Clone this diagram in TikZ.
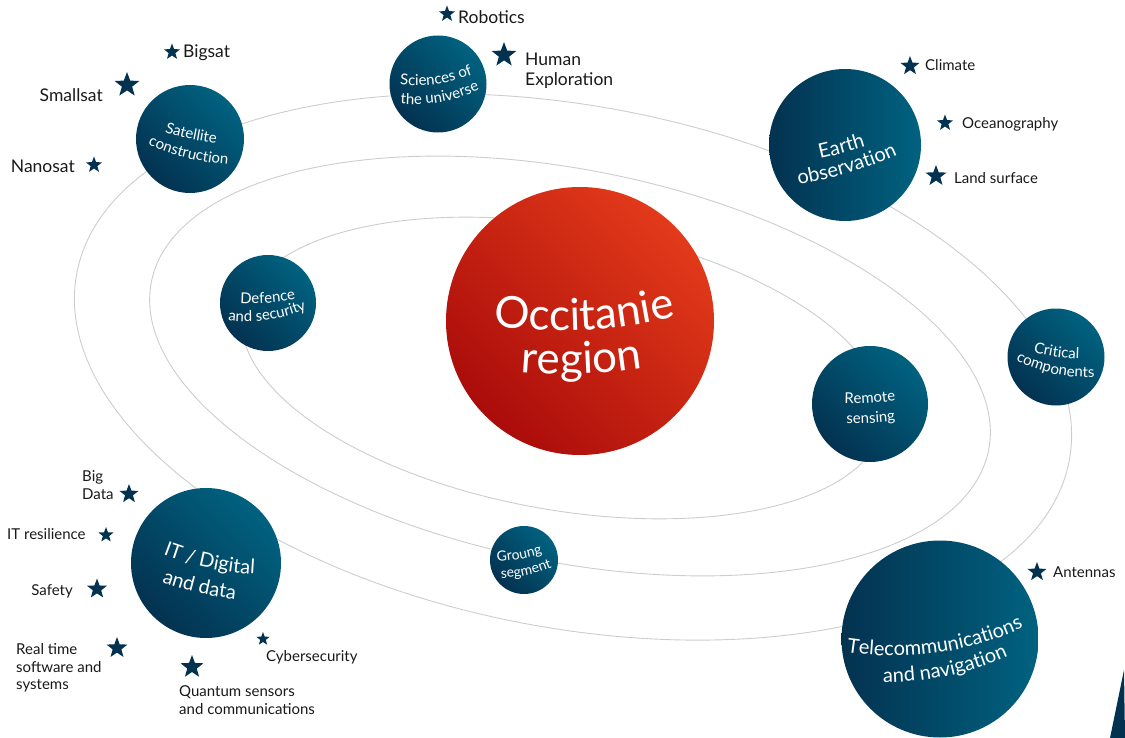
\documentclass[tikz,border=0pt]{standalone}
\usepackage{fontspec}
\setmainfont{Lato}
\usetikzlibrary{shapes.geometric,decorations.text}

\definecolor{planetdark}{RGB}{3,50,80}
\definecolor{planetlight}{RGB}{0,98,128}
\definecolor{coredark}{RGB}{170,12,10}
\definecolor{corelight}{RGB}{226,58,26}
\definecolor{orbit}{RGB}{205,205,205}
\definecolor{ink}{RGB}{25,25,25}

\begin{document}
\begin{tikzpicture}
  [x=1pt,y=1pt,
   ring/.style={draw=orbit,line width=0.9pt},
   planet/.style={circle,inner sep=0pt,top color=planetlight,bottom color=planetdark,shading angle=-45},
   spark/.style={star,star points=5,star point ratio=2.4,fill=planetdark,inner sep=0pt},
   lab/.style={text=ink,align=left,inner sep=0pt,font=\fontsize{15}{17.5}\selectfont},
   biglab/.style={lab,font=\fontsize{17.5}{20}\selectfont}]
    \useasboundingbox (0,0) rectangle (1125,-738);

    % orbits
    \draw[ring,rotate around={-10.7:(573,-367)}] (573,-367) ellipse [x radius=505,y radius=261];
    \draw[ring,rotate around={-11.4:(570,-366)}] (570,-366) ellipse [x radius=427,y radius=196];
    \draw[ring,rotate around={-10:(563,-368)}] (563,-368) ellipse [x radius=325,y radius=142];

    % planets
    \node (occ) [circle,inner sep=0pt,minimum size=268pt,top color=corelight,bottom color=coredark,shading angle=-45] at (580,-321) {};
    \node (sat) [planet,minimum size=108pt] at (190,-139) {};
    \node (sci) [planet,minimum size=97pt]  at (438,-84)  {};
    \node (eo)  [planet,minimum size=152pt,shading angle=-90] at (845,-145) {};
    \node (def) [planet,minimum size=96pt]  at (268,-303) {};
    \node (rs)  [planet,minimum size=116pt] at (870,-404) {};
    \node (cc)  [planet,minimum size=97pt]  at (1056,-357) {};
    \node (gs)  [planet,minimum size=68pt]  at (524,-560) {};
    \node (it)  [planet,minimum size=150pt] at (206,-563) {};
    \node (tel) [planet,minimum size=197pt,shading angle=-90] at (940,-639) {};
    \fill[planetdark] (1124,-670) -- (1110,-738) -- (1125,-738) -- cycle;

    % curved planet names: mid of baseline x/y, slope, bend radius, size, text
    \foreach \x/\y/\ang/\rad/\fs/\txt in {
        585/330/3/500/44/Occitanie, 582/374/2/500/44/region,
        190/139/-12/230/15/Satellite, 187/158/-14/230/15/construction,
        437/84/8/150/15/{Sciences of}, 441/102/10/150/15/{the universe},
        843/153/15/600/20/Earth, 849/173/17/400/20/observation,
        268/303/4/200/15/Defence, 268/320/8/150/15/{and security},
        870/403/3/300/15/Remote, 871/423/3/300/15/sensing,
        1056/357/-8/200/15/Critical, 1054/374/-12/150/15/components,
        520/559/10/200/14/Groung, 527/575/12/150/14/segment,
        208/568/-12/300/20/{IT / Digital}, 198/593/-13/300/20/{and data},
        937/653/8/300/20/Telecommunications, 947/676/12/300/20/{and navigation}}
    {
      \pgfmathsetmacro\sag{120*120/(2*\rad)}
      \fontsize{\fs}{\fs}\selectfont
      \path[decorate,decoration={text along path,text align=center,text color=white,text/.expanded=\txt}]
        ({\x-120*cos(\ang)-\sag*sin(\ang)},{-\y-120*sin(\ang)+\sag*cos(\ang)})
        .. controls ({\x-40*cos(\ang)+\sag/3*sin(\ang)},{-\y-40*sin(\ang)-\sag/3*cos(\ang)})
               and ({\x+40*cos(\ang)+\sag/3*sin(\ang)},{-\y+40*sin(\ang)-\sag/3*cos(\ang)}) ..
        ({\x+120*cos(\ang)-\sag*sin(\ang)},{-\y+120*sin(\ang)+\sag*cos(\ang)});
    }

    % stars
    \foreach \n/\x/\y/\s in {s1/172/52/17,s2/127/85/26,s3/94/165/17,s4/447/14/17,s5/504/55/26,
                             s6/910/66/20,s7/945/123/17,s8/936/176/22,s9/129/494/20,s10/106/535/16,
                             s11/97/589/21,s12/117/648/22,s13/192/667/24,s14/263/639/14,s15/1037/572/20}
      \node (\n) [spark,minimum size=\s pt] at (\x,-\y) {};

    % labels
    \node (l1)  [biglab,anchor=west] at (183,-53)  {Bigsat};
    \node (l2)  [biglab,anchor=east] at (103,-95)  {Smallsat};
    \node (l3)  [biglab,anchor=east] at (75,-166)  {Nanosat};
    \node (l4)  [biglab,anchor=west] at (458,-17)  {Robotics};
    \node (l5)  [biglab,anchor=west] at (525,-71)  {Human\\Exploration};
    \node (l6)  [lab,anchor=west] at (925,-65)   {Climate};
    \node (l7)  [lab,anchor=west] at (962,-124)  {Oceanography};
    \node (l8)  [lab,anchor=west] at (954,-178)  {Land surface};
    \node (l9)  [lab,anchor=west] at (82,-485)   {Big\\Data};
    \node (l10) [lab,anchor=west] at (7,-534)    {IT resilience};
    \node (l11) [lab,anchor=east] at (73,-591)   {Safety};
    \node (l12) [lab,anchor=west] at (16,-668)   {Real time\\software and\\systems};
    \node (l13) [lab,anchor=west] at (179,-700)  {Quantum sensors\\and communications};
    \node (l14) [lab,anchor=west] at (266,-657)  {Cybersecurity};
    \node (l15) [lab,anchor=west] at (1053,-572) {Antennas};
\end{tikzpicture}
\end{document}
